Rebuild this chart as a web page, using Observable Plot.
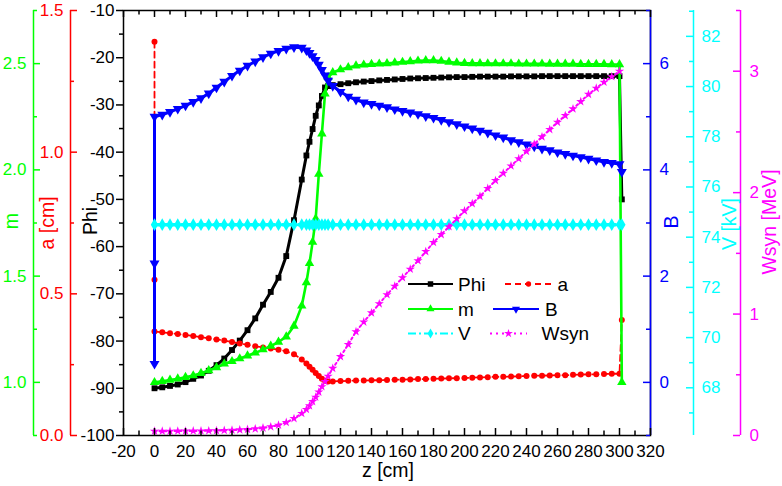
<!DOCTYPE html>
<html><head><meta charset="utf-8">
<script src="https://cdn.jsdelivr.net/npm/d3@7"></script>
<script src="https://cdn.jsdelivr.net/npm/@observablehq/plot@0.6"></script>
<style>
body{margin:0;background:#fff;font-family:"Liberation Sans",Arial,sans-serif;}
#chart{position:relative;width:782px;height:486px;overflow:hidden;background:#fff;}
#chart svg{position:absolute;left:0;top:0;}
.ttl{position:absolute;white-space:nowrap;font-size:19.5px;line-height:1;transform:translate(-50%,-50%) rotate(-90deg);}
.xt{position:absolute;white-space:nowrap;font-size:19.5px;line-height:1;transform:translate(-50%,-50%);}
</style></head><body><div id="chart"></div>
<script>
// ---- data ----
const zValues = [0,5,10,15,20,25,30,35,40,45,50,55,60,65,70,75,80,85,90,95,
  98,100,102,104,106,108,110,112,
  115,120,125,130,135,140,145,150,155,160,165,170,175,180,185,190,195,200,205,210,215,220,225,230,235,240,245,250,255,260,265,270,275,280,285,290,295,300,
  301.5];
const phiValues = [-90.0,-89.8,-89.5,-89.2,-88.7,-88.0,-87.3,-86.3,-85.1,-83.7,-81.9,-79.9,-77.7,-75.2,-72.3,-69.6,-66.6,-62.0,-54.4,-45.8,
  -40.7,-37.8,-35.1,-32.3,-30.1,-28.1,-26.3,-26.0,
  -25.8,-25.6,-25.4,-25.2,-25.05,-24.95,-24.8,-24.7,-24.6,-24.5,-24.4,-24.35,-24.3,-24.25,-24.2,-24.15,-24.1,-24.1,-24.05,-24.0,-24.0,-24.0,-24.0,-23.95,-23.95,-23.95,-23.95,-23.9,-23.9,-23.9,-23.9,-23.9,-23.9,-23.9,-23.9,-23.9,-23.9,-23.9,
  -50.0];
const aStartValues = [1.39, 0.55];
const aValues = [0.367,0.364,0.361,0.358,0.355,0.351,0.347,0.343,0.339,0.335,0.330,0.325,0.320,0.315,0.311,0.307,0.303,0.297,0.287,0.268,
  0.254,0.243,0.232,0.221,0.210,0.200,0.193,0.191,
  0.191,0.192,0.193,0.194,0.194,0.195,0.195,0.196,0.197,0.197,0.198,0.199,0.199,0.200,0.201,0.202,0.202,0.203,0.204,0.205,0.206,0.207,0.207,0.208,0.209,0.210,0.211,0.211,0.212,0.213,0.213,0.214,0.215,0.216,0.216,0.217,0.218,0.218,
  0.408];
const mValues = [1.000,1.005,1.011,1.017,1.024,1.032,1.043,1.056,1.070,1.087,1.099,1.112,1.125,1.139,1.154,1.171,1.190,1.215,1.265,1.360,
  1.470,1.560,1.660,1.770,1.980,2.170,2.358,2.436,
  2.458,2.472,2.482,2.490,2.494,2.497,2.499,2.501,2.504,2.507,2.510,2.513,2.515,2.515,2.512,2.508,2.504,2.502,2.501,2.501,2.500,2.500,2.500,2.500,2.499,2.499,2.499,2.499,2.498,2.498,2.498,2.498,2.497,2.497,2.497,2.497,2.496,2.496,
  1.000];
const bStartValues = [0.35, 2.24];
const bValues = [5.00,5.04,5.09,5.15,5.21,5.28,5.35,5.44,5.55,5.66,5.77,5.87,5.96,6.04,6.12,6.19,6.24,6.28,6.31,6.30,
  6.25,6.20,6.14,6.07,5.98,5.88,5.78,5.68,
  5.58,5.47,5.38,5.32,5.27,5.24,5.21,5.18,5.14,5.11,5.08,5.05,5.01,4.98,4.94,4.90,4.86,4.82,4.78,4.74,4.70,4.65,4.61,4.56,4.52,4.48,4.44,4.40,4.37,4.33,4.30,4.27,4.24,4.21,4.18,4.15,4.13,4.11,
  3.96];
const vValues = [74.5,74.5,74.5,74.5,74.5,74.5,74.5,74.5,74.5,74.5,74.5,74.5,74.5,74.5,74.5,74.5,74.5,74.5,74.5,74.5,
  74.5,74.5,74.5,74.5,74.5,74.5,74.5,74.5,
  74.5,74.5,74.5,74.5,74.5,74.5,74.5,74.5,74.5,74.5,74.5,74.5,74.5,74.5,74.5,74.5,74.5,74.5,74.5,74.5,74.5,74.5,74.5,74.5,74.5,74.5,74.5,74.5,74.5,74.5,74.5,74.5,74.5,74.5,74.5,74.5,74.5,74.5,
  74.5];
const wValues = [0.036,0.036,0.036,0.037,0.037,0.038,0.038,0.039,0.040,0.042,0.044,0.047,0.050,0.055,0.062,0.072,0.085,0.108,0.140,0.182,
  0.215,0.245,0.280,0.316,0.358,0.402,0.445,0.488,
  0.553,0.650,0.750,0.855,0.935,1.010,1.085,1.160,1.230,1.300,1.370,1.440,1.515,1.590,1.655,1.720,1.785,1.850,1.910,1.970,2.035,2.100,2.160,2.220,2.280,2.340,2.400,2.460,2.520,2.580,2.635,2.690,2.750,2.810,2.860,2.910,2.955,3.000,
  null];

// ticks
const xTicks = [-20,0,20,40,60,80,100,120,140,160,180,200,220,240,260,280,300,320];
const xMinor = [-10,10,30,50,70,90,110,130,150,170,190,210,230,250,270,290,310];
const phiTicks = [-100,-90,-80,-70,-60,-50,-40,-30,-20,-10];
const phiMinor = [-95,-85,-75,-65,-55,-45,-35,-25,-15];
const aTicks = [0,0.5,1,1.5], aMinor = [0.25,0.75,1.25];
const mTicks = [1,1.5,2,2.5], mMinor = [0.75,1.25,1.75,2.25,2.75];
const bTicks = [0,2,4,6], bMinor = [-1,1,3,5,7];
const vTicks = [68,70,72,74,76,78,80,82], vMinor = [67,69,71,73,75,77,79,81,83];
const wTicks = [0,1,2,3], wMinor = [0.5,1.5,2.5,3.5];

// domains
const xDomain = [-20,320];
const phiDomain = [-100,-10], aDomain = [0,1.5], mDomain = [0.75,2.75], bDomain = [-1,7], vDomain = [66.1,83.03], wDomain = [0,3.5];

// colors
const BLACK="#000000", RED="#ff0000", GREEN="#00ff00", BLUE="#0000ff", CYAN="#00ffff", MAG="#ff00ff";
const FONT = "'Liberation Sans', Arial, sans-serif";
const TICKFONT = 17;

// ---- layout ----
const W = 782, H = 486, ML = 123, MR = 132, MT = 10, MB = 51;
const chart = document.getElementById("chart");
const base = {width: W, height: H, marginLeft: ML, marginRight: MR, marginTop: MT, marginBottom: MB,
  style: {background: "transparent", overflow: "visible", fontFamily: FONT, fontSize: "17px", color: "black"}};
function add(el){ chart.appendChild(el); }

const triDown = {draw(ctx, size){ const s3 = Math.sqrt(3); const y = -Math.sqrt(size/(s3*3));
  ctx.moveTo(0, -y*2); ctx.lineTo(-s3*y, y); ctx.lineTo(s3*y, y); ctx.closePath(); }};

function rows(zs, vs){ return zs.map((z,i)=>({z, v: vs[i]})).filter(d => d.v != null); }
const phiRows = rows(zValues, phiValues);
const aRows = aStartValues.map(v=>({z:0, v})).concat(rows(zValues, aValues));
const mRows = rows(zValues, mValues);
const bRows = bStartValues.map(v=>({z:0, v})).concat(rows(zValues, bValues));
const vRows = rows(zValues, vValues);
const wRows = rows(zValues, wValues);

function dataLayer(data, domain, color, lineOpts, dotOpts, extra=[]){
  return Plot.plot({...base, x:{domain:xDomain, axis:null}, y:{domain, axis:null},
    marks:[...extra,
      Plot.line(data, {x:"z", y:"v", stroke:color, strokeWidth:2.5, ...lineOpts}),
      Plot.dot(data, {x:"z", y:"v", fill:color, ...dotOpts})]});
}

add(dataLayer(phiRows, phiDomain, BLACK, {strokeWidth:3}, {symbol:"square", r:3.3}, [Plot.frame({stroke:BLACK, strokeWidth:1.5})]));
add(dataLayer(aRows, aDomain, RED, {strokeDasharray:"6,4", strokeWidth:1.8}, {symbol:"circle", r:3.0}));
add(dataLayer(mRows, mDomain, GREEN, {strokeWidth:2.6}, {symbol:"triangle", r:3.5}));
add(dataLayer(bRows, bDomain, BLUE, {strokeWidth:3}, {symbol:triDown, r:3.7}));
add(dataLayer(vRows, vDomain, CYAN, {strokeDasharray:"8,3,2,3", strokeWidth:3.5}, {symbol:"diamond", r:3.9}));
add(dataLayer(wRows, wDomain, MAG, {strokeDasharray:"2,3", strokeWidth:2}, {symbol:"star", r:2.9}));

// y axis layers
function yAxisLayer({from, to, domain, major, minor, color, lineAt, labels, fmt, pad, drawLine=true}){
  const inset = lineAt === "left" ? {insetRight:3} : {insetLeft:3};
  const marks = [
    Plot.tickY(major, {y:d=>d, stroke:color, strokeWidth:1.5}),
    Plot.tickY(minor, {y:d=>d, stroke:color, strokeWidth:1.5, ...inset}),
    Plot.axisY({anchor:labels, ticks:major, tickSize:0, tickPadding:pad, tickFormat:fmt, color, fontSize:TICKFONT, label:null})
  ];
  if (drawLine) marks.push(Plot.ruleX([lineAt === "left" ? 0 : 1], {stroke:color, strokeWidth:1.5}));
  return Plot.plot({...base, marginLeft:from, marginRight:W-to, x:{domain:[0,1], axis:null}, y:{domain}, marks});
}
const f1 = d3.format(".1f"), fi = d => String(d);
add(yAxisLayer({from:116, to:123, domain:phiDomain, major:phiTicks, minor:phiMinor, color:BLACK, lineAt:"right", labels:"left", fmt:fi, pad:2, drawLine:false}));
add(yAxisLayer({from:70, to:77, domain:aDomain, major:aTicks, minor:aMinor, color:RED, lineAt:"left", labels:"left", fmt:f1, pad:7}));
add(yAxisLayer({from:33, to:40, domain:mDomain, major:mTicks, minor:mMinor, color:GREEN, lineAt:"left", labels:"left", fmt:f1, pad:7}));
add(yAxisLayer({from:643, to:650, domain:bDomain, major:bTicks, minor:bMinor, color:BLUE, lineAt:"right", labels:"right", fmt:fi, pad:9}));
add(yAxisLayer({from:686, to:693, domain:vDomain, major:vTicks, minor:vMinor, color:CYAN, lineAt:"right", labels:"right", fmt:fi, pad:8}));
add(yAxisLayer({from:733, to:740, domain:wDomain, major:wTicks, minor:wMinor, color:MAG, lineAt:"right", labels:"right", fmt:fi, pad:9}));

// x axis layers (bottom with labels, top ticks only)
add(Plot.plot({...base, marginTop:H-MB-7, x:{domain:xDomain}, marks:[
  Plot.tickX(xTicks, {x:d=>d, stroke:BLACK, strokeWidth:1.5}),
  Plot.tickX(xMinor, {x:d=>d, stroke:BLACK, strokeWidth:1.5, insetTop:2.5}),
  Plot.axisX({anchor:"bottom", ticks:xTicks, tickSize:0, tickPadding:9, tickFormat:fi, fontSize:TICKFONT, label:null})
]}));
add(Plot.plot({...base, marginBottom:H-MT-7, x:{domain:xDomain, axis:null}, marks:[
  Plot.tickX(xTicks, {x:d=>d, stroke:BLACK, strokeWidth:1.5}),
  Plot.tickX(xMinor, {x:d=>d, stroke:BLACK, strokeWidth:1.5, insetBottom:2.5})
]}));

// axis titles
function title(text, cx, cy, color, cls="ttl"){
  const d = document.createElement("div"); d.className = cls; d.textContent = text;
  d.style.left = cx + "px"; d.style.top = cy + "px"; d.style.color = color; chart.appendChild(d);
}
title("m", 12, 221, GREEN);
title("a [cm]", 48, 223, RED);
title("Phi", 91, 221, BLACK);
title("B", 672, 222, BLUE);
title("V [kV]", 730, 224, CYAN);
title("Wsyn [MeV]", 770, 222, MAG);
title("z [cm]", 388, 471, BLACK, "xt");

// legend
const legendItems = [
  {label:"Phi", color:BLACK, x1:408, x2:453, tx:458, y:284, dash:null, sym:d3.symbolSquare, size:30},
  {label:"a", color:RED, x1:505, x2:552, tx:557.5, y:284, dash:"6,4", sym:d3.symbolCircle, size:22},
  {label:"m", color:GREEN, x1:408, x2:453, tx:458, y:309, dash:null, sym:d3.symbolTriangle, size:28},
  {label:"B", color:BLUE, x1:493, x2:539, tx:545, y:309, dash:null, sym:triDown, size:28},
  {label:"V", color:CYAN, x1:408, x2:453, tx:458, y:333.5, dash:"8,3,2,3", sym:d3.symbolDiamond, size:30},
  {label:"Wsyn", color:MAG, x1:490, x2:527, tx:541.5, y:333.5, dash:"2,4", sym:d3.symbolStar, size:24}
];
const NS = "http://www.w3.org/2000/svg";
const lg = document.createElementNS(NS, "svg");
lg.setAttribute("width", W); lg.setAttribute("height", H);
lg.style.fontFamily = FONT;
for (const it of legendItems){
  const l = document.createElementNS(NS, "line");
  l.setAttribute("x1", it.x1); l.setAttribute("x2", it.x2); l.setAttribute("y1", it.y); l.setAttribute("y2", it.y);
  l.setAttribute("stroke", it.color); l.setAttribute("stroke-width", 2);
  if (it.dash) l.setAttribute("stroke-dasharray", it.dash);
  lg.appendChild(l);
  const p = document.createElementNS(NS, "path");
  p.setAttribute("d", d3.symbol(it.sym, it.size)());
  p.setAttribute("transform", `translate(${(it.x1+it.x2)/2},${it.y})`);
  p.setAttribute("fill", it.color);
  lg.appendChild(p);
  const t = document.createElementNS(NS, "text");
  t.setAttribute("x", it.tx); t.setAttribute("y", it.y + 6.5);
  t.setAttribute("font-size", 19); t.setAttribute("fill", "black");
  t.textContent = it.label;
  lg.appendChild(t);
}
chart.appendChild(lg);
</script>
</body></html>
